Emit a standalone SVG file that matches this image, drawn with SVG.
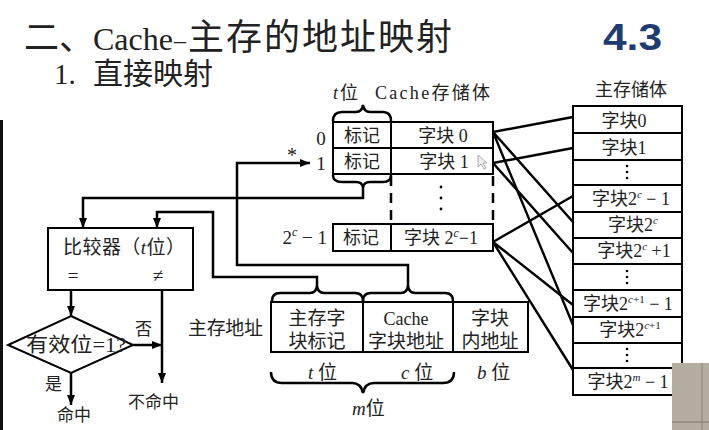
<svg xmlns="http://www.w3.org/2000/svg" width="709" height="430" viewBox="0 0 709 430">
<defs>
<marker id="ah" viewBox="0 0 10 8" refX="10" refY="4" markerWidth="10" markerHeight="8" markerUnits="userSpaceOnUse" orient="auto"><path d="M0,0 L10,4 L0,8 Z" fill="#000"/></marker>
</defs>
<style>
.t{font-family:"Liberation Serif","Noto Sans CJK SC",serif;fill:#222}
.c{text-anchor:middle}
.i{font-style:italic}
.box{fill:#fff;stroke:#000;stroke-width:2}
.ln{fill:none;stroke:#000;stroke-width:2.5}
.map{fill:none;stroke:#000;stroke-width:2.4}
.br{fill:none;stroke:#000;stroke-width:2.5}
.dash{stroke:#000;stroke-width:2.5;stroke-dasharray:10 7}
</style>
<rect x="0" y="0" width="709" height="430" fill="#fff"/>
<rect x="0" y="120" width="3" height="310" fill="#111"/>

<g id="title">
<text class="t" x="24" y="50" font-size="35">二、</text>
<text class="t" x="93" y="50" font-size="32">Cache</text>
<text class="t" x="174" y="48" font-size="24">–</text>
<text class="t" x="188" y="50" font-size="36" textLength="264">主存的地址映射</text>
<text x="603" y="50" font-family="Liberation Sans, Arial, sans-serif" font-weight="bold" font-size="36" textLength="59" lengthAdjust="spacingAndGlyphs" fill="#1f3c70">4.3</text>
<text class="t" x="54" y="84" font-size="29">1.</text>
<text class="t" x="93" y="84" font-size="30" textLength="120">直接映射</text>
</g>

<g id="cache">
<text class="t i" x="333" y="99" font-size="18">t</text>
<text class="t" x="340" y="99" font-size="18">位</text>
<text class="t" x="375" y="99" font-size="18" textLength="115">Cache存储体</text>
<rect class="box" x="333" y="122" width="58" height="26"/>
<rect class="box" x="391" y="122" width="102" height="26"/>
<rect class="box" x="333" y="148" width="58" height="26"/>
<rect class="box" x="391" y="148" width="102" height="26"/>
<rect class="box" x="333" y="224" width="58" height="27"/>
<rect class="box" x="391" y="224" width="102" height="27"/>
<line class="dash" x1="391" y1="176" x2="391" y2="224"/>
<line class="dash" x1="493" y1="176" x2="493" y2="224"/>
<circle cx="441" cy="187" r="1.4"/><circle cx="441" cy="198" r="1.4"/><circle cx="441" cy="209" r="1.4"/>
<text class="t c" x="362" y="142" font-size="18">标记</text>
<text class="t c" x="443" y="142" font-size="18">字块 0</text>
<text class="t c" x="362" y="168" font-size="18">标记</text>
<text class="t c" x="444" y="168" font-size="18">字块 1</text>
<text class="t c" x="361" y="244" font-size="18">标记</text>
<text class="t c" x="441" y="244" font-size="18">字块 2<tspan class="i" font-size="12" dy="-7">c</tspan><tspan dy="7">−1</tspan></text>
<text class="t c" x="321" y="145" font-size="19">0</text>
<text class="t c" x="321" y="170" font-size="19">1</text>
<text class="t c" x="292" y="162" font-size="20">*</text>
<text class="t" x="327" y="244" font-size="19" text-anchor="end">2<tspan class="i" font-size="12" dy="-8">c</tspan><tspan dy="8"> − 1</tspan></text>
<path class="br" d="M333,121 Q333,112 342,112 L356,112 Q362,112 363,105 Q364,112 370,112 L383,112 Q391,112 391,121"/>
<path class="br" d="M333,175 Q333,182 342,182 L356,182 Q362,182 363,187 Q364,182 370,182 L383,182 Q391,182 391,175"/>
<path d="M478,155 L478,167 L481,164 L484,169 L486,168 L483,163 L487,163 Z" fill="#eee" stroke="#999" stroke-width="0.8"/>
</g>

<g id="memory">
<text class="t c" x="631" y="96" font-size="18">主存储体</text>
<rect class="box" x="573" y="106" width="109" height="289"/>
<path stroke="#000" stroke-width="2" d="M573,133H682M573,160H682M573,185H682M573,212H682M573,238H682M573,264H682M573,290H682M573,317H682M573,343H682M573,368H682"/>
<text class="t c" x="624" y="127" font-size="18">字块0</text>
<text class="t c" x="624" y="154" font-size="18">字块1</text>
<circle cx="627" cy="166" r="1.3"/><circle cx="627" cy="172" r="1.3"/><circle cx="627" cy="178" r="1.3"/>
<text class="t c" x="631" y="205" font-size="18">字块2<tspan class="i" font-size="11" dy="-7">c</tspan><tspan dy="7"> − 1</tspan></text>
<text class="t c" x="633" y="231" font-size="18">字块2<tspan class="i" font-size="11" dy="-7">c</tspan></text>
<text class="t c" x="634" y="257" font-size="18">字块2<tspan class="i" font-size="11" dy="-7">c</tspan><tspan dy="7"> +1</tspan></text>
<circle cx="627" cy="271" r="1.3"/><circle cx="627" cy="277" r="1.3"/><circle cx="627" cy="283" r="1.3"/>
<text class="t c" x="628" y="310" font-size="18">字块2<tspan font-size="11" dy="-7"><tspan class="i">c</tspan>+1</tspan><tspan dy="7"> − 1</tspan></text>
<text class="t c" x="630" y="336" font-size="18">字块2<tspan font-size="11" dy="-7"><tspan class="i">c</tspan>+1</tspan></text>
<circle cx="627" cy="349" r="1.3"/><circle cx="627" cy="355" r="1.3"/><circle cx="627" cy="361" r="1.3"/>
<text class="t c" x="628" y="388" font-size="18">字块2<tspan class="i" font-size="11" dy="-7">m</tspan><tspan dy="7"> − 1</tspan></text>
</g>

<g id="compare">
<rect class="box" x="48" y="228" width="145" height="62"/>
<text class="t" x="63" y="254" font-size="19" textLength="122">比较器（<tspan class="i">t</tspan>位）</text>
<text class="t c" x="73" y="282" font-size="19">=</text>
<text class="t c" x="158" y="282" font-size="19">≠</text>
</g>

<g id="valid">
<polygon class="box" points="71,316 133,345 71,373 8,345"/>
<text class="t" x="26" y="352" font-size="20" textLength="100" lengthAdjust="spacingAndGlyphs">有效位=1?</text>
<text class="t" x="135" y="335" font-size="17">否</text>
<text class="t" x="45" y="390" font-size="17">是</text>
<text class="t" x="57" y="421" font-size="17">命中</text>
<text class="t" x="128" y="408" font-size="17">不命中</text>
</g>

<g id="address">
<text class="t" x="188" y="335" font-size="19" textLength="75">主存地址</text>
<rect class="box" x="271" y="302" width="92" height="50"/>
<rect class="box" x="363" y="302" width="90" height="50"/>
<rect class="box" x="453" y="302" width="75" height="50"/>
<text class="t c" x="317" y="325" font-size="19">主存字</text>
<text class="t c" x="317" y="348" font-size="19">块标记</text>
<text class="t c" x="406" y="325" font-size="18">Cache</text>
<text class="t c" x="406" y="348" font-size="19">字块地址</text>
<text class="t c" x="490" y="325" font-size="19">字块</text>
<text class="t c" x="490" y="348" font-size="19">内地址</text>
<path class="br" d="M272,301 Q272,293 280,293 L310,293 Q316,293 317,286 Q318,293 324,293 L355,293 Q363,293 363,301"/>
<path class="br" d="M363,301 Q363,293 371,293 L401,293 Q407,293 408,286 Q409,293 415,293 L445,293 Q453,293 453,301"/>
<path class="br" d="M271,372 Q271,383 282,383 L352,383 Q361,383 363,393 Q365,383 374,383 L443,383 Q454,383 454,372"/>
<text class="t" x="308" y="379" font-size="19"><tspan class="i">t</tspan> 位</text>
<text class="t" x="401" y="379" font-size="19"><tspan class="i">c</tspan> 位</text>
<text class="t" x="477" y="379" font-size="19"><tspan class="i">b</tspan> 位</text>
<text class="t" x="352" y="415" font-size="19"><tspan class="i">m</tspan>位</text>
</g>

<g id="connectors">
<path class="ln" d="M408,286 L408,265 L237,265 L237,163 L310,163" marker-end="url(#ah)"/>
<path class="ln" d="M317,286 L317,277 L213,277 L213,212 L157,212 L157,228" marker-end="url(#ah)"/>
<path class="ln" d="M363,186 L363,198 L83,198 L83,228" marker-end="url(#ah)"/>
<path class="ln" d="M71,290 L71,316" marker-end="url(#ah)"/>
<path class="ln" d="M133,345 L162,345" marker-end="url(#ah)"/>
<path class="ln" d="M162,290 L162,383" marker-end="url(#ah)"/>
<path class="ln" d="M71,373 L71,405" marker-end="url(#ah)"/>
<path class="map" d="M493,132 L573,117 M493,132 L573,222 M493,132 L573,325"/>
<path class="map" d="M493,163 L573,148 M493,163 L573,253"/>
<path class="map" d="M493,242 L573,196 M493,242 L573,305 M493,242 L573,370"/>
</g>

<rect x="672" y="363" width="37" height="67" fill="#b5ada1"/>
<line x1="702" y1="363" x2="702" y2="430" stroke="#9a9288" stroke-width="1.5"/>
<line x1="672" y1="422" x2="709" y2="422" stroke="#8f877d" stroke-width="1.5"/>
</svg>
